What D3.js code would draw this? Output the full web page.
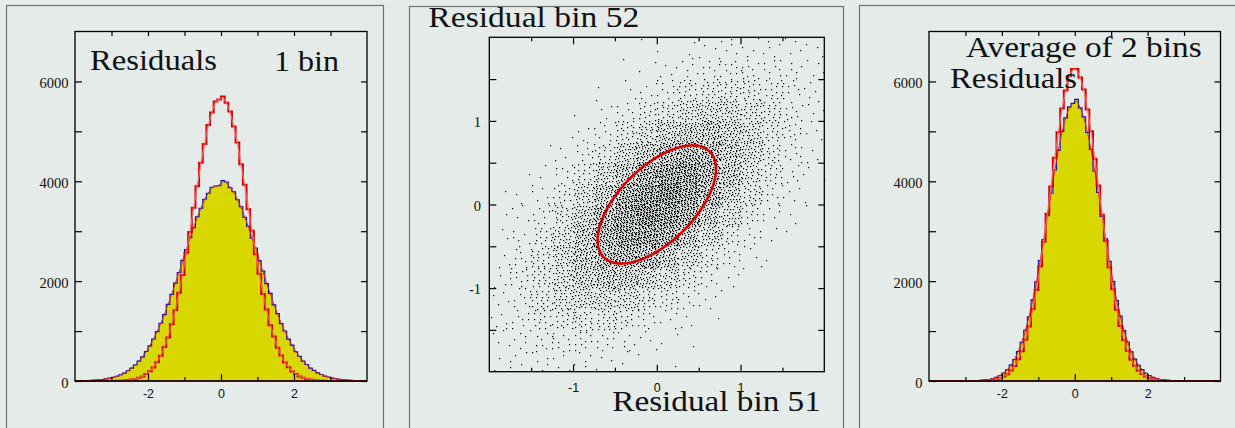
<!DOCTYPE html>
<html><head><meta charset="utf-8">
<script src="https://cdn.jsdelivr.net/npm/d3@7"></script>
<style>
html,body{margin:0;padding:0;background:#e4ebe8;overflow:hidden;}
svg{display:block;}
</style></head><body>
<svg id="c" width="1235" height="428"></svg>
<script>
// ---------- data ----------
const histMin = -4, histMax = 4, nBins = 80, histYMax = 7000;
// left panel: "1 bin" residuals (wide, filled) and narrow (red)
const leftWide = [
2,4,6,9,12,17,23,31,43,57,75,96,125,158,205,258,320,398,483,590,
703,842,988,1158,1330,1535,1735,1960,2172,2415,2635,2870,3070,3290,3460,3640,3760,3880,3905,3910,
4015,3985,3870,3790,3630,3490,3280,3100,2860,2665,2410,2200,1950,1755,1525,1350,1150,1000,838,718,
585,495,398,330,258,212,162,131,98,79,58,45,32,26,17,13,9,7,4,3];
const leftNarrow = [
0,0,0,0,0,0,0,0,1,1,2,4,7,11,18,28,41,64,92,138,
196,270,378,505,680,872,1135,1415,1770,2125,2570,2985,3470,3900,4370,4745,5125,5380,5600,5640,
5700,5575,5400,5095,4775,4340,3930,3440,3010,2540,2150,1745,1430,1115,890,665,512,370,276,190,
138,92,64,41,28,17,11,7,4,2,1,1,0,0,0,0,0,0,0,0];
// right panel: "Average of 2 bins"
const rightWide = [
0,0,0,0,0,0,0,0,0,1,2,3,5,8,14,20,30,49,72,110,
160,224,318,432,592,775,1020,1288,1625,1985,2410,2835,3310,3760,4225,4620,5000,5270,5490,5560,
5640,5470,5290,4980,4640,4205,3775,3295,2850,2395,1995,1612,1300,1008,782,585,438,314,228,156,
110,72,49,30,21,12,8,5,3,2,1,0,0,0,0,0,0,0,0,0];
const rightNarrow = [
0,0,0,0,0,0,0,0,0,0,0,0,1,2,4,8,14,21,37,57,
92,136,208,298,434,598,826,1090,1440,1822,2295,2790,3350,3895,4470,4980,5460,5820,6110,6250,
6250,6080,5840,5440,5000,4450,3915,3330,2805,2280,1838,1425,1102,815,605,428,303,204,140,88,
59,35,23,12,8,4,2,1,0,0,0,0,0,0,0,0,0,0,0,0];
const histYTicks = [0, 2000, 4000, 6000];
const histYMinor = [1000, 3000, 5000];
const histXTicks = [-2, 0, 2];
const histXMinor = [-3, -1, 1, 3];

// middle panel: scatter, point counts per 0.25 x 0.25 cell (rows top -> bottom, cols left -> right)
const scatterMin = -2, scatterMax = 2;
const scatterGrid = [
[0,0,0,0,0,0,0,1,1,2,3,5,4,5,4,3],
[0,0,0,0,0,0,1,2,4,6,9,11,10,9,6,4],
[0,0,0,0,0,1,3,5,10,17,21,23,19,15,8,5],
[0,0,0,0,1,4,8,16,25,37,41,40,30,21,10,4],
[0,0,0,1,3,9,21,35,55,66,70,56,40,21,11,4],
[0,0,1,3,10,20,43,67,93,100,92,67,43,20,9,3],
[0,1,2,8,19,43,73,108,126,127,100,68,35,17,6,2],
[1,2,6,14,38,66,110,135,149,124,94,52,27,9,4,1],
[1,4,9,27,52,94,124,150,135,110,66,37,14,6,2,1],
[2,6,16,35,68,100,127,126,108,73,43,19,8,2,1,0],
[3,9,20,43,67,92,100,93,67,43,20,10,3,1,0,0],
[4,11,21,40,56,70,66,55,35,21,9,3,1,0,0,0],
[4,10,21,30,40,41,37,25,16,8,4,1,0,0,0,0],
[5,8,15,19,23,21,17,10,5,3,1,0,0,0,0,0],
[4,6,9,10,11,9,6,4,2,1,0,0,0,0,0,0],
[3,4,5,4,5,3,2,1,1,0,0,0,0,0,0,0]];
const scatterTicks = [-1, 0, 1];
const scatterMinor = [-1.5, -0.5, 0.5, 1.5];
const ellipseShape = {cx: 0, cy: 0, a: 0.894, b: 0.447, angleDeg: 45};

// ---------- drawing ----------
const svg = d3.select("#c");
const BG = "#e4ebe8";
svg.append("rect").attr("width",1235).attr("height",428).attr("fill",BG);

// panel frames
const frames = [[6.5,5.5,377,440],[409.5,6.5,434,440],[859.5,5.5,420,440]];
svg.selectAll("rect.frame").data(frames).enter().append("rect")
  .attr("class","frame").attr("x",d=>d[0]).attr("y",d=>d[1]).attr("width",d=>d[2]).attr("height",d=>d[3])
  .attr("fill","none").attr("stroke","#707070").attr("stroke-width",1.2);

const serif = "'Liberation Serif','Times New Roman',serif";
const sans = "'Liberation Sans',Arial,sans-serif";

function styleAxis(g, font, size){
  g.select(".domain").remove();
  g.selectAll(".tick line").attr("stroke","#000").attr("stroke-width",1.2);
  g.selectAll("text").attr("font-family",font).attr("font-size",size).attr("fill","#111");
}

const w = (histMax - histMin)/nBins;
const binStarts = d3.range(nBins).map(i => histMin + i*w);

function histPanel(px0, px1, wide, narrow){
  const x = d3.scaleLinear().domain([histMin, histMax]).range([px0, px1]);
  const y = d3.scaleLinear().domain([0, histYMax]).range([381, 31.5]);
  const g = svg.append("g");
  const stepPts = vals => binStarts.map((s,i)=>[s, vals[i]]).concat([[histMax, vals[nBins-1]]]);
  const area = d3.area().curve(d3.curveStepAfter).x(d=>x(d[0])).y0(y(0)).y1(d=>y(d[1]));
  const line = d3.line().curve(d3.curveStepAfter).x(d=>x(d[0])).y(d=>y(d[1]));
  const fit = d3.line().curve(d3.curveBasis).x(d=>x(d[0])).y(d=>y(d[1]));
  const centers = vals => binStarts.map((s,i)=>[s + w/2, vals[i]]);

  g.append("path").datum(stepPts(wide)).attr("d",area).attr("fill","#d8d800");
  g.append("path").datum(stepPts(wide)).attr("d",line).attr("fill","none").attr("stroke","#1010c0").attr("stroke-width",1.1);
  g.append("path").datum(centers(wide)).attr("d",fit).attr("fill","none").attr("stroke","#e02020").attr("stroke-width",1);
  g.append("path").datum(stepPts(narrow)).attr("d",line).attr("fill","none").attr("stroke","#dd0000").attr("stroke-width",2);
  g.append("path").datum(centers(narrow)).attr("d",fit).attr("fill","none").attr("stroke","#f07070").attr("stroke-width",1.4).attr("opacity",0.8);
  // baseline
  g.append("line").attr("x1",px0).attr("x2",px1).attr("y1",y(0)).attr("y2",y(0)).attr("stroke","#8a0000").attr("stroke-width",1.5);

  // axes
  g.append("g").attr("transform",`translate(0,${y(0)})`)
    .call(d3.axisBottom(x).tickValues(histXTicks).tickSize(-7).tickPadding(8.5).tickFormat(d=>String(d)))
    .call(a=>styleAxis(a, sans, "12.5px"));
  g.append("g").attr("transform",`translate(0,${y(0)})`)
    .call(d3.axisBottom(x).tickValues(histXMinor).tickSize(-4).tickFormat(""))
    .call(a=>styleAxis(a, sans, "12px"));
  g.append("g").attr("transform",`translate(0,${y(histYMax)})`)
    .call(d3.axisTop(x).tickValues(histXTicks.concat(histXMinor)).tickSize(-4.5).tickFormat(""))
    .call(a=>styleAxis(a, sans, "12px"));
  g.append("g").attr("transform",`translate(${px0},0)`)
    .call(d3.axisLeft(y).tickValues(histYTicks).tickSize(-7).tickPadding(6.5).tickFormat(d=>String(d)))
    .call(a=>{styleAxis(a, serif, "14.5px"); a.selectAll("text").attr("dy","0.42em");});
  g.append("g").attr("transform",`translate(${px0},0)`)
    .call(d3.axisLeft(y).tickValues(histYMinor).tickSize(-7).tickFormat(""))
    .call(a=>styleAxis(a, serif, "12px"));
  g.append("g").attr("transform",`translate(${px1},0)`)
    .call(d3.axisRight(y).tickValues(histYTicks.concat(histYMinor)).tickSize(-6).tickFormat(""))
    .call(a=>styleAxis(a, serif, "12px"));
  g.append("rect").attr("x",px0).attr("y",y(histYMax)).attr("width",px1-px0).attr("height",y(0)-y(histYMax))
    .attr("fill","none").attr("stroke","#000").attr("stroke-width",1.3);
}

histPanel(75, 367, leftWide, leftNarrow);
histPanel(929, 1220.5, rightWide, rightNarrow);

// scatter panel
(function(){
  const x = d3.scaleLinear().domain([scatterMin, scatterMax]).range([489.3, 824.3]);
  const y = d3.scaleLinear().domain([scatterMin, scatterMax]).range([371.7, 37.3]);
  const g = svg.append("g");
  const cell = (scatterMax - scatterMin)/scatterGrid.length;
  const g1 = 0.7548776662466927, g2 = 0.5698402909980532;
  const pts = [];
  let idx = 0;
  scatterGrid.forEach((row, r) => row.forEach((n, c) => {
    for (let k = 0; k < n; k++) {
      idx++;
      const fx = (0.5 + idx*g1) % 1, fy = (0.5 + idx*g2) % 1;
      pts.push([scatterMin + (c + fx)*cell, scatterMax - (r + fy)*cell]);
    }
  }));
  g.selectAll("rect.dot").data(pts).enter().append("rect").attr("class","dot")
    .attr("x",d=>Math.round(x(d[0]))).attr("y",d=>Math.round(y(d[1])))
    .attr("width",1.2).attr("height",1.2).attr("fill","#000").attr("opacity",1);

  const th = Math.PI/180*ellipseShape.angleDeg;
  const ell = d3.range(0, 361, 2).map(t => {
    const a = t*Math.PI/180;
    const ex = ellipseShape.a*Math.cos(a), ey = ellipseShape.b*Math.sin(a);
    return [ellipseShape.cx + ex*Math.cos(th) - ey*Math.sin(th), ellipseShape.cy + ex*Math.sin(th) + ey*Math.cos(th)];
  });
  g.append("path").datum(ell).attr("d", d3.line().x(d=>x(d[0])).y(d=>y(d[1])))
    .attr("fill","none").attr("stroke","#dd0000").attr("stroke-width",2.6);

  g.append("g").attr("transform",`translate(0,${y(scatterMin)})`)
    .call(d3.axisBottom(x).tickValues(scatterTicks).tickSize(-7).tickPadding(11).tickFormat(d=>String(d)))
    .call(a=>styleAxis(a, sans, "12.5px"));
  g.append("g").attr("transform",`translate(0,${y(scatterMin)})`)
    .call(d3.axisBottom(x).tickValues(scatterMinor).tickSize(-4).tickFormat(""))
    .call(a=>styleAxis(a, sans, "12px"));
  g.append("g").attr("transform",`translate(0,${y(scatterMax)})`)
    .call(d3.axisTop(x).tickValues(scatterTicks).tickSize(-7).tickFormat(""))
    .call(a=>styleAxis(a, sans, "12px"));
  g.append("g").attr("transform",`translate(0,${y(scatterMax)})`)
    .call(d3.axisTop(x).tickValues(scatterMinor).tickSize(-4).tickFormat(""))
    .call(a=>styleAxis(a, sans, "12px"));
  g.append("g").attr("transform",`translate(${x(scatterMin)},0)`)
    .call(d3.axisLeft(y).tickValues(scatterTicks).tickSize(-7).tickPadding(8.3).tickFormat(d=>String(d)))
    .call(a=>{styleAxis(a, serif, "14.5px"); a.selectAll("text").attr("dy","0.4em");});
  g.append("g").attr("transform",`translate(${x(scatterMin)},0)`)
    .call(d3.axisLeft(y).tickValues(scatterMinor).tickSize(-7).tickFormat(""))
    .call(a=>styleAxis(a, serif, "12px"));
  g.append("g").attr("transform",`translate(${x(scatterMax)},0)`)
    .call(d3.axisRight(y).tickValues(scatterTicks.concat(scatterMinor)).tickSize(-6).tickFormat(""))
    .call(a=>styleAxis(a, serif, "12px"));
  g.append("rect").attr("x",x(scatterMin)).attr("y",y(scatterMax)).attr("width",x(scatterMax)-x(scatterMin)).attr("height",y(scatterMin)-y(scatterMax))
    .attr("fill","none").attr("stroke","#000").attr("stroke-width",1.3);
})();

// titles
const titles = [
  {t:"Residuals", x:90, y:69.5, len:127},
  {t:"1 bin", x:274, y:70.5, len:65},
  {t:"Residual bin 52", x:428.3, y:26.7, len:211},
  {t:"Residual bin 51", x:612.3, y:410.7, len:208.5},
  {t:"Average of 2 bins", x:966, y:57.3, len:235.7},
  {t:"Residuals", x:950, y:88.3, len:127}
];
svg.selectAll("text.title").data(titles).enter().append("text").attr("class","title")
  .attr("x",d=>d.x).attr("y",d=>d.y).attr("textLength",d=>d.len).attr("lengthAdjust","spacingAndGlyphs")
  .attr("font-family",serif).attr("font-size","29.5px").attr("fill","#111").text(d=>d.t);
</script>
</body></html>
